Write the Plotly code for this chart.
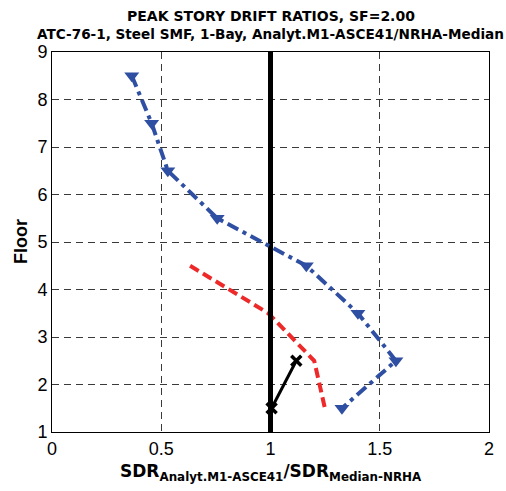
import plotly.graph_objects as go

# Story-level ratios of analytical (ASCE 41, Method 1) to median NRHA peak drift
floors_blue = [8.5, 7.5, 6.5, 5.5, 4.5, 3.5, 2.5, 1.5]
ratio_blue = [0.365, 0.456, 0.53, 0.756, 1.164, 1.40, 1.574, 1.327]

floors_red = [4.5, 3.5, 2.5, 1.5]
ratio_red = [0.632, 0.99, 1.2, 1.249]

floors_black = [1.5, 2.5]
ratio_black = [1.005, 1.118]

# Unity reference line
unity_x = [1.0, 1.0]
unity_y = [1, 9]

x_ticks = [0, 0.5, 1, 1.5, 2]
x_tick_text = ["0", "0.5", "1", "1.5", "2"]
y_ticks = [1, 2, 3, 4, 5, 6, 7, 8, 9]

FONT = "Liberation Sans, Arial, Helvetica, sans-serif"
WIDE = "DejaVu Sans, Verdana, sans-serif"

fig = go.Figure()

fig.add_trace(go.Scatter(
    x=ratio_red, y=floors_red, mode="lines",
    line=dict(color="#EE2929", width=4, dash="10px,5px"),
    hoverinfo="skip", showlegend=False,
))

fig.add_trace(go.Scatter(
    x=unity_x, y=unity_y, mode="lines",
    line=dict(color="black", width=5),
    hoverinfo="skip", showlegend=False,
))

fig.add_trace(go.Scatter(
    x=ratio_blue, y=floors_blue, mode="lines+markers",
    line=dict(color="#2F4FA2", width=4, dash="12px,5px,4px,5px"),
    marker=dict(symbol="triangle-down", size=13, color="#2F4FA2"),
    hoverinfo="skip", showlegend=False,
))

fig.add_trace(go.Scatter(
    x=ratio_black, y=floors_black, mode="lines+markers",
    line=dict(color="black", width=3),
    marker=dict(symbol="x-thin", size=10, line=dict(color="black", width=3.5)),
    hoverinfo="skip", showlegend=False,
))

grid_common = dict(
    showgrid=True, gridcolor="#3a3a3a", gridwidth=1, griddash="7px,5px",
    showline=True, linecolor="black", linewidth=1, mirror=True,
    zeroline=False, ticks="",
    tickfont=dict(family=FONT, size=18, color="black"),
)

fig.update_xaxes(
    range=[0, 2], tickvals=x_ticks, ticktext=x_tick_text, **grid_common,
)
fig.update_yaxes(
    range=[1, 9], tickvals=y_ticks, **grid_common,
)

fig.update_layout(
    width=506, height=491,
    margin=dict(l=51.5, r=13.7, t=52, b=59),
    paper_bgcolor="white", plot_bgcolor="white",
    font=dict(family=FONT, color="black"),
    annotations=[
        dict(text="<b>PEAK STORY DRIFT RATIOS, SF=2.00</b>",
             xref="paper", yref="paper", x=0.5, y=1, yshift=36,
             xanchor="center", yanchor="middle", showarrow=False,
             font=dict(family=WIDE, size=14)),
        dict(text="<b>ATC-76-1, Steel SMF, 1-Bay, Analyt.M1-ASCE41/NRHA-Median</b>",
             xref="paper", yref="paper", x=0.5, y=1, yshift=18,
             xanchor="center", yanchor="middle", showarrow=False,
             font=dict(family=WIDE, size=13.6)),
        dict(text="<b>SDR<sub>Analyt.M1-ASCE41</sub>/SDR<sub>Median-NRHA</sub></b>",
             xref="paper", yref="paper", x=0.5, y=0, yshift=-40,
             xanchor="center", yanchor="middle", showarrow=False,
             font=dict(family=WIDE, size=17)),
        dict(text="<b>Floor</b>",
             xref="paper", yref="paper", x=0, y=0.5, xshift=-31,
             xanchor="center", yanchor="middle", showarrow=False, textangle=-90,
             font=dict(family=FONT, size=18)),
    ],
)

fig.write_html("out.html")
